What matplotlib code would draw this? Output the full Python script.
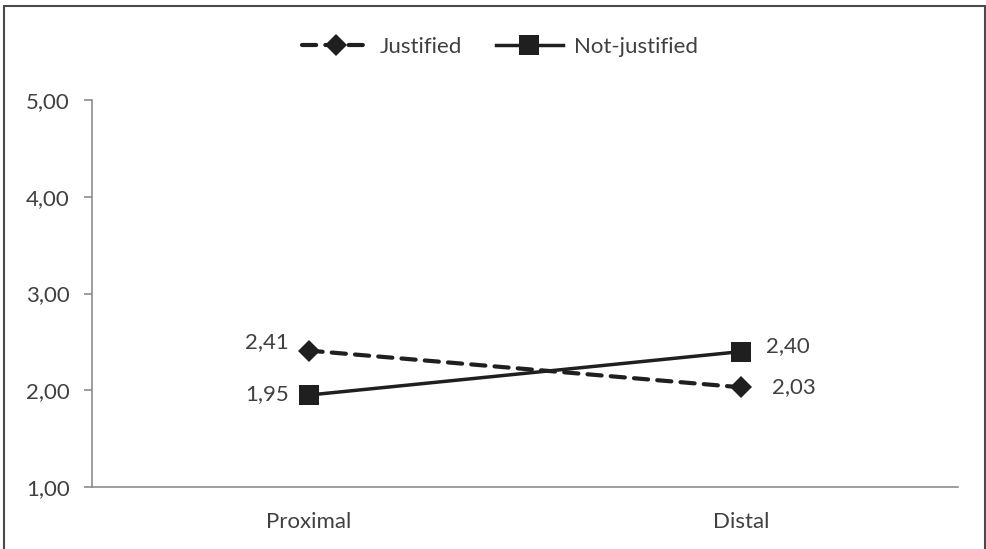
import matplotlib
matplotlib.use("Agg")
import matplotlib.pyplot as plt
from matplotlib.patches import Rectangle

categories = ["Proximal", "Distal"]
justified = [2.41, 2.03]
not_justified = [1.95, 2.40]
yticks = [1.0, 2.0, 3.0, 4.0, 5.0]

plt.rcParams['font.family'] = ['Lato', 'DejaVu Sans']
dark = '#1f1f1f'
axis_gray = '#8c8c8c'
text_gray = '#404040'
fs = 16

fig = plt.figure(figsize=(9.86, 5.49), dpi=100)
ax = fig.add_axes([92/986, 1 - 487/549, (958-92)/986, (487-100)/549])

x = [1, 2]
ax.plot(x, justified, color=dark, lw=3.0, linestyle=(0, (3.4, 2.2)),
        dash_capstyle='round', marker='D', markersize=11, markeredgewidth=0,
        label='Justified')
ax.plot(x, not_justified, color=dark, lw=2.5, linestyle='-',
        marker='s', markersize=14, markeredgewidth=0, label='Not-justified')

#--- value labels (offsets in points from each point)
label_offsets_j = [(-14, 6, 'right'), (22, 0, 'left')]
label_offsets_n = [(-14, 1, 'right'), (18, 4, 'left')]
for vals, offs in [(justified, label_offsets_j), (not_justified, label_offsets_n)]:
    for i, v in enumerate(vals):
        dx, dy, ha = offs[i]
        ax.annotate(f"{v:.2f}".replace('.', ','), (x[i], v), xytext=(dx, dy),
                    textcoords='offset points', ha=ha, va='center',
                    fontsize=fs, color=text_gray)

ax.set_xlim(0.5, 2.5)
ax.set_ylim(1, 5)
ax.set_yticks(yticks)
ax.set_yticklabels([f"{t:.2f}".replace('.', ',') for t in yticks])
ax.set_xticks(x)
ax.set_xticklabels(categories)
ax.tick_params(axis='y', length=6, width=1.2, color=axis_gray, labelsize=fs,
               labelcolor=text_gray, pad=10)
ax.tick_params(axis='x', length=0, labelsize=fs, labelcolor=text_gray, pad=18)

for s in ['top', 'right']:
    ax.spines[s].set_visible(False)
for s in ['left', 'bottom']:
    ax.spines[s].set_color(axis_gray)
    ax.spines[s].set_linewidth(1.2)

leg = fig.legend(loc='center', bbox_to_anchor=(500/986, 1 - 47/549), ncol=2,
                 frameon=False, fontsize=fs, handlelength=3.0,
                 columnspacing=1.5, handletextpad=0.5)
for t in leg.get_texts():
    t.set_color(text_gray)

#--- outer border
fig.patches.append(Rectangle((4/986, -0.05), (985-4)/986, 1.05 - 6/549,
                             transform=fig.transFigure, fill=False,
                             edgecolor='#4a4a4a', lw=1.5))

fig.savefig("out.png", dpi=100)
